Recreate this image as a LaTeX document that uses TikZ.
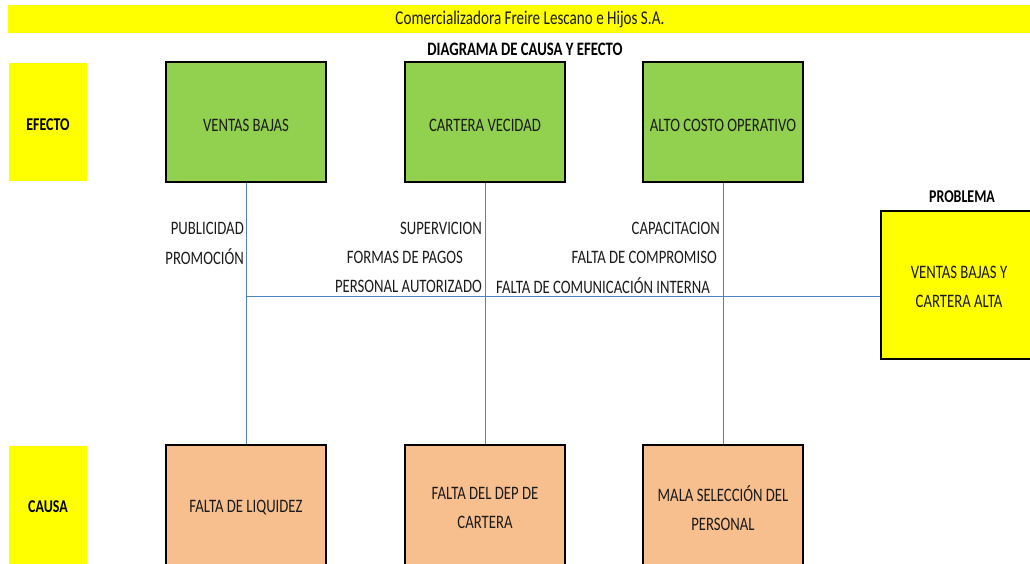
\documentclass[tikz,border=0pt]{standalone}
\usepackage{fontspec}
\setmainfont{Carlito}[FakeStretch=0.775]
\definecolor{effgreen}{HTML}{92D050}
\definecolor{causeorange}{HTML}{F8BF8E}
\definecolor{bannerYellow}{HTML}{FFFF00}
\definecolor{branchblue}{HTML}{4F81C4}
\definecolor{ink}{HTML}{1A1A1A}
\tikzset{
  txt/.style={font=\fontsize{19}{29}\selectfont, text=ink, inner sep=0pt, align=center},
  boldtxt/.style={font=\bfseries\fontsize{18}{22}\selectfont, text=black, inner sep=0pt},
  boxtext/.style={txt, yshift=-3pt},
  effectbox/.style={draw=black, line width=1.8pt, fill=effgreen, minimum width=160pt, minimum height=120pt},
  causebox/.style={draw=black, line width=1.8pt, fill=causeorange, minimum width=160pt, minimum height=120pt},
  sidebox/.style={fill=bannerYellow, minimum width=78pt, minimum height=118pt},
  problembox/.style={draw=black, line width=1.8pt, fill=bannerYellow, minimum width=156pt, minimum height=148pt},
  branch/.style={draw=branchblue, line width=0.9pt},
  causelabel/.style={txt, anchor=east},
}
\begin{document}
\begin{tikzpicture}[x=1pt,y=-1pt]
\useasboundingbox (0,0) rectangle (1030,563);
\clip (0,0) rectangle (1030,563);

% heading banner and title
\fill[bannerYellow] (8,5) rectangle (1035,33);
\node[txt, font=\fontsize{19.5}{22}\selectfont] (company) at (530,19) {Comercializadora Freire Lescano e Hijos S.A.};
\node[boldtxt, font=\bfseries\fontsize{19}{22}\selectfont] (title) at (525,49) {DIAGRAMA DE CAUSA Y EFECTO};

% row labels
\node[sidebox, label={[boldtxt, yshift=-3pt]center:EFECTO}] (efecto) at (48,122) {};
\node[sidebox, label={[boldtxt, yshift=-2pt]center:CAUSA}] (causa) at (48,505) {};

% effects
\node[effectbox, label={[boxtext]center:VENTAS BAJAS}] (e1) at (246,122) {};
\node[effectbox, label={[boxtext]center:CARTERA VECIDAD}] (e2) at (485,122) {};
\node[effectbox, label={[boxtext]center:ALTO COSTO OPERATIVO}] (e3) at (723,122) {};

% causes
\node[causebox, label={[boxtext]center:FALTA DE LIQUIDEZ}] (c1) at (246,505) {};
\node[causebox, label={[boxtext]center:{FALTA DEL DEP DE\\CARTERA}}] (c2) at (485,505) {};
\node[causebox, label={[boxtext]center:{MALA SELECCIÓN DEL\\PERSONAL}}] (c3) at (723,505) {};

% problem
\node[boldtxt] (problabel) at (962,197) {PROBLEMA};
\node[problembox, label={[txt, yshift=-1.5pt]center:{VENTAS BAJAS Y\\CARTERA ALTA}}] (prob) at (959,285) {};

% bones
\draw[branch] (e1.south) -- (c1.north);
\draw[branch] (e2.south) -- (c2.north);
\draw[branch] (e3.south) -- (c3.north);
\coordinate (spine) at (246,296);
\draw[branch] (spine) -- (spine -| prob.west);

% sub-causes
\node[causelabel] (l1) at (244,228) {PUBLICIDAD};
\node[causelabel] (l2) at (244,257) {PROMOCIÓN};
\node[causelabel] (l3) at (482,228) {SUPERVICION};
\node[causelabel] (l4) at (463,257) {FORMAS DE PAGOS};
\node[causelabel] (l5) at (482,286) {PERSONAL AUTORIZADO};
\node[causelabel] (l6) at (720,228) {CAPACITACION};
\node[causelabel] (l7) at (717,257) {FALTA DE COMPROMISO};
\node[txt, anchor=west] (l8) at (496,286) {FALTA DE COMUNICACIÓN INTERNA};
\end{tikzpicture}
\end{document}
